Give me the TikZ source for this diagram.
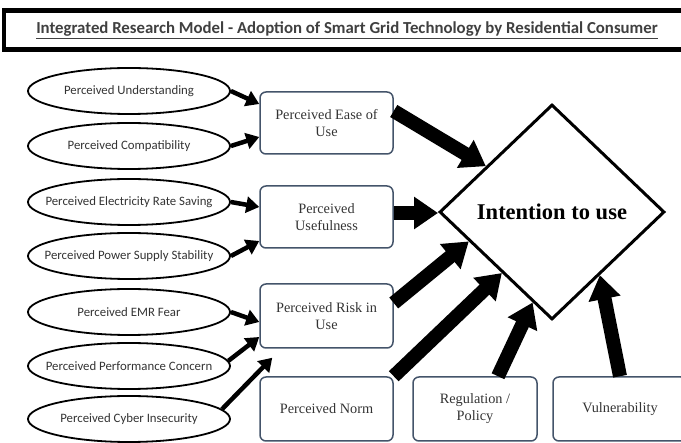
\documentclass[tikz,border=0pt]{standalone}
\usepackage{fontspec}
\setmainfont{Liberation Serif}
\newfontfamily\calib{Carlito}
\usetikzlibrary{shapes.geometric,arrows.meta,calc}
\definecolor{boxblue}{HTML}{44546A}
\newcommand{\fixw}[1]{\makebox[0pt][c]{#1}}
\begin{document}
\begin{tikzpicture}[x=1pt,y=-1pt,
 ell/.style={ellipse, draw, line width=1.8pt, minimum width=202pt, minimum height=46pt, inner sep=0pt, font=\calib\fontsize{12.8}{14}\selectfont, text=black!80},
 rbox/.style={draw=boxblue, line width=1.5pt, rounded corners=6pt, minimum width=133pt, inner sep=0pt, align=center, font=\fontsize{14.3}{17}\selectfont, text=black!80},
 smallarrow/.style={line width=4.5pt, -{Triangle[width=16pt,length=13pt]}},
 bigarrow/.style={line width=14pt, -{Triangle[width=31pt,length=24pt]}},
]
\useasboundingbox (0,0) rectangle (681,443);
\clip (0,0) rectangle (681,443);

\node[draw, line width=4.5pt, minimum width=686pt, minimum height=39pt, inner sep=0pt, font=\calib\bfseries\fontsize{16.8}{19}\selectfont, text=black!75] (title) at (347,30) {\underline{Integrated Research Model - Adoption of Smart Grid Technology by Residential Consumer}};

\node[ell] (e1) at (129,91) {\fixw{Perceived Understanding}};
\node[ell] (e2) at (129,146) {\fixw{Perceived Compatibility}};
\node[ell] (e3) at (129,202) {\fixw{Perceived Electricity Rate Saving}};
\node[ell] (e4) at (129,256) {\fixw{Perceived Power Supply Stability}};
\node[ell] (e5) at (129,312) {\fixw{Perceived EMR Fear}};
\node[ell] (e6) at (129,366) {\fixw{Perceived Performance Concern}};
\node[ell] (e7) at (129,419) {\fixw{Perceived Cyber Insecurity}};

\node[rbox, minimum height=62pt] (b1) at (326.5,123) {Perceived Ease of\\Use};
\node[rbox, minimum height=62pt] (b2) at (326.5,217) {Perceived\\Usefulness};
\node[rbox, minimum height=64pt] (b3) at (326.5,316) {Perceived Risk in\\Use};
\node[rbox, minimum height=64pt] (n) at (326.5,409) {Perceived Norm};
\node[rbox, minimum height=64pt, minimum width=124pt] (r) at (475,409) {Regulation /\\Policy};
\node[rbox, minimum height=64pt, minimum width=134pt] (v) at (620,409) {Vulnerability};

\node[diamond, draw, line width=3pt, minimum width=225pt, minimum height=215pt, inner sep=0pt, font=\bfseries\fontsize{22.5}{26}\selectfont] (d) at (552,212) {Intention to use};

\draw[smallarrow] (e1.east) -- ([yshift=19pt]b1.west);
\draw[smallarrow] (e2.east) -- ([yshift=-14pt]b1.west);
\draw[smallarrow] (e3.east) -- ([yshift=10pt]b2.west);
\draw[smallarrow] (e4.east) -- ([yshift=-24pt]b2.west);
\draw[smallarrow] (e5.east) -- ([yshift=-6pt]b3.west);
\draw[smallarrow] (e6.3) -- ([yshift=-21pt]b3.west);
\draw[smallarrow] (e7.6) -- ([xshift=13pt,yshift=-9pt]b3.south west);

\draw[bigarrow] ([yshift=12pt]b1.east) -- ($(d.west)!0.42!(d.north)$);
\draw[bigarrow] ([yshift=4pt]b2.east) -- ([yshift=4pt]b2.east -| d.west);
\draw[bigarrow] ([yshift=13pt]b3.east) -- ($(d.west)!0.27!(d.south)$);
\draw[bigarrow] (n.north east) -- ($(d.west)!0.56!(d.south)$);
\draw[bigarrow] ([xshift=23pt]r.north) -- ($(d.west)!0.83!(d.south)$);
\draw[bigarrow] (v.north) -- ($(d.south)!0.42!(d.east)$);
\end{tikzpicture}
\end{document}
